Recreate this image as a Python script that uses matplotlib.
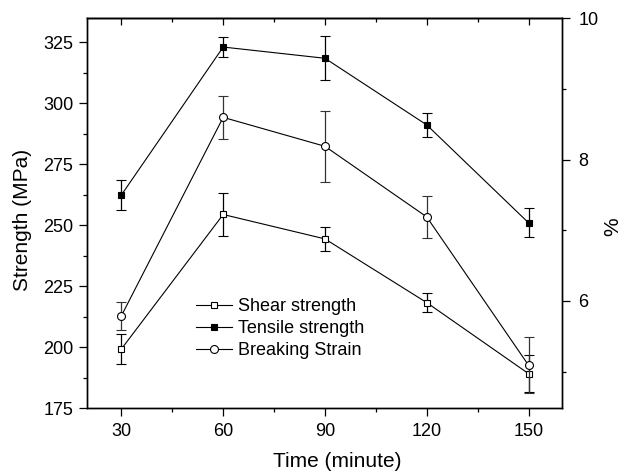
import matplotlib
matplotlib.use("Agg")
import matplotlib.pyplot as plt
from matplotlib.ticker import MultipleLocator

plt.rcParams['font.family'] = ['Liberation Sans', 'DejaVu Sans']

time_min = [30, 60, 90, 120, 150]
shear = [199.3, 254.4, 244.4, 218.3, 189.2]
shear_err = [6, 9, 5, 4, 7.5]
tensile = [262.4, 323.0, 318.4, 291.1, 251.0]
tensile_err = [6, 4, 9, 5, 6]
strain = [5.79, 8.60, 8.19, 7.19, 5.09]
strain_err = [0.2, 0.3, 0.5, 0.3, 0.4]

fig = plt.figure(figsize=(6.23, 4.74), dpi=100)
ax = fig.add_axes([0.1404, 0.1386, 0.7624, 0.8224])
ax2 = ax.twinx()

common = dict(color='black', lw=0.8, elinewidth=0.9, capsize=3.6, capthick=0.9)
h1 = ax.errorbar(time_min, shear, yerr=shear_err, marker='s', ms=5,
                 mfc='white', mec='black', mew=0.8, **common)
h2 = ax.errorbar(time_min, tensile, yerr=tensile_err, marker='s', ms=5,
                 mfc='black', mec='black', mew=0.8, **common)
h3 = ax2.errorbar(time_min, strain, yerr=strain_err, marker='o', ms=5.7,
                  mfc='white', mec='black', mew=0.8, ecolor='#333333',
                  color='black', lw=0.8, elinewidth=0.9, capsize=3.6, capthick=0.9)

ax.set_xlim(20, 160)
ax.set_ylim(175, 334.7)
ax2.set_ylim(4.48, 10)

ax.set_xticks(time_min)
ax.xaxis.set_minor_locator(MultipleLocator(15))
ax.yaxis.set_major_locator(MultipleLocator(25))
ax.yaxis.set_minor_locator(MultipleLocator(12.5))
ax2.yaxis.set_major_locator(MultipleLocator(2))
ax2.yaxis.set_minor_locator(MultipleLocator(1))

ax.tick_params(axis='both', which='major', direction='out', length=5.8, width=0.9,
               labelsize=13, pad=4.5)
ax.tick_params(axis='both', which='minor', direction='out', length=3.2, width=0.9)
ax2.tick_params(axis='y', which='major', direction='out', length=5.5, width=0.9,
                labelsize=13, pad=6)
ax2.tick_params(axis='y', which='minor', direction='out', length=3.2, width=0.9)

# top axis mirrors the bottom ticks, pointing inward
top = ax.secondary_xaxis('top')
top.set_xticks(time_min)
top.xaxis.set_minor_locator(MultipleLocator(15))
top.tick_params(which='major', direction='in', length=5, width=0.9, labeltop=False)
top.tick_params(which='minor', direction='in', length=3, width=0.9)

for a in (ax, ax2):
    for s in a.spines.values():
        s.set_linewidth(1.0)
top.spines['top'].set_linewidth(1.0)

ax.set_xlabel('Time (minute)', fontsize=15)
ax.xaxis.set_label_coords(0.526, -0.113)
ax.set_ylabel('Strength (MPa)', fontsize=15)
ax.yaxis.set_label_coords(-0.1175, 0.484)
ax2.set_ylabel('%', fontsize=15)
ax2.yaxis.set_label_coords(1.085, 0.466)

leg = ax.legend([h1[0], h2[0], h3[0]],
                ['Shear strength', 'Tensile strength', 'Breaking Strain'],
                loc='upper left', bbox_to_anchor=(196 / 623, 1 - 298 / 474),
                bbox_transform=fig.transFigure, frameon=False, fontsize=13,
                handlelength=2.0, handletextpad=0.33, labelspacing=0.28,
                borderpad=0, borderaxespad=0)

fig.savefig('out.png', dpi=100)
